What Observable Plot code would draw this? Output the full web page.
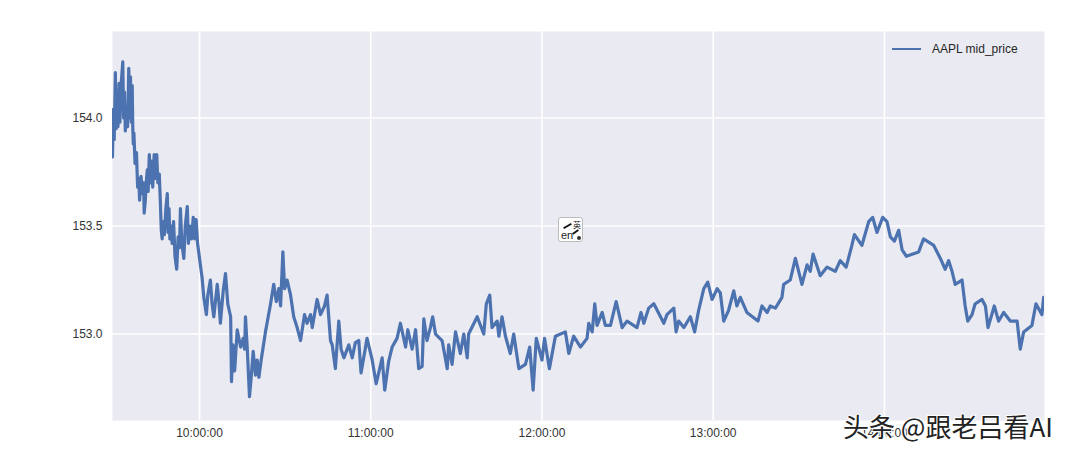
<!DOCTYPE html>
<html>
<head>
<meta charset="utf-8">
<script src="https://cdn.jsdelivr.net/npm/d3@7"></script>
<script src="https://cdn.jsdelivr.net/npm/@observablehq/plot@0.6"></script>
<style>
html,body{margin:0;padding:0;background:#fff;width:1083px;height:455px;overflow:hidden}
#wrap{position:relative;width:1083px;height:455px}
#legendLine{position:absolute;left:892px;top:48px;width:29px;height:2px;background:#4c72b0}
#legendText{position:absolute;left:932px;top:42px;font:12px "Liberation Sans",Arial,sans-serif;color:#262626;white-space:nowrap}
#mark{position:absolute;left:843px;top:407px;font:26px/38px "Noto Sans CJK SC",sans-serif;color:#222;white-space:nowrap;text-shadow:1px 1px 0 #fff,-1px 1px 0 #fff,1px -1px 0 #fff,-1px -1px 0 #fff}
#ime{position:absolute;left:558px;top:217px;width:25px;height:25px;box-sizing:border-box;background:#fff;border:1px solid #bbb;border-radius:3px;color:#222}
#ime span{position:absolute;line-height:1}
#ime .a{left:2px;top:11px;font:11px "Liberation Sans",sans-serif}
#ime .b{left:14px;top:1px;font:8px "Noto Sans CJK SC",sans-serif}
#ime .c{left:4px;top:7px;width:9px;height:2px;background:#111;transform:rotate(-30deg)}
#ime .d{left:13px;top:13px;width:7px;height:2px;background:#111;transform:rotate(-35deg)}
#ime .e{left:18px;top:18px;width:4px;height:4px;border-radius:50%;background:#333}
</style>
</head>
<body>
<div id="wrap"></div>
<script>
// minutes after 09:30
const minutes = [-0.5,-0.2,0.1,0.5,0.8,1.1,1.4,1.8,2.1,2.5,3.1,3.4,3.7,4.0,4.4,4.8,5.2,5.5,5.8,6.1,6.4,6.6,6.8,7.0,7.4,7.9,8.3,8.7,9.0,9.5,10.0,10.4,10.6,11.0,11.3,11.7,12.0,12.4,12.8,13.2,13.6,14.1,14.5,15.0,15.4,15.9,16.3,16.6,16.9,17.3,17.7,18.2,18.7,19.0,19.3,19.6,20.0,20.4,20.9,21.4,22.0,22.5,23.0,23.3,23.8,24.5,25.0,25.7,26.1,26.6,27.2,27.8,28.3,28.8,29.3,30.3,30.9,31.5,32.4,32.9,33.8,34.4,35.0,36.2,36.8,37.3,38.3,39.1,39.9,40.9,41.2,41.7,42.3,43.2,44.4,45.3,45.8,46.1,46.7,47.5,48.1,48.8,49.6,50.2,50.8,51.6,53.1,54.9,56.0,56.9,57.8,58.4,59.2,59.8,60.7,61.9,63.0,64.2,65.4,66.8,67.7,68.9,69.5,71.2,72.4,73.8,74.7,75.9,76.5,77.6,78.8,79.6,80.6,82.3,83.5,84.6,85.8,86.6,88.7,90.5,91.9,94.0,94.9,96.3,97.5,99.2,100.4,102.2,103.0,104.5,105.7,106.8,108.0,108.6,109.7,110.9,111.7,112.7,115.0,116.8,117.3,118.5,119.7,121.4,122.6,123.8,124.3,127.3,129.6,130.5,131.7,132.5,134.3,134.9,136.0,137.2,138.9,140.1,141.9,144.2,145.7,146.9,148.0,150.0,150.9,152.6,154.7,158.2,159.4,161.1,163.5,165.8,166.4,167.6,168.5,169.3,171.1,172.2,174.0,176.0,178.1,179.8,183.3,184.7,185.7,187.4,189.2,192.7,193.8,196.2,197.0,197.9,199.7,202.0,203.5,204.9,206.7,208.1,209.6,211.4,212.5,213.7,215.4,217.2,218.3,219.5,221.8,225.7,227.1,228.9,230.0,231.8,234.1,234.7,237.0,238.8,241.1,242.9,244.0,245.0,247.5,249.9,252.8,254.5,256.6,258.6,259.5,262.1,264.5,265.9,267.4,269.4,270.9,272.1,273.5,275.0,276.2,277.7,282.0,283.7,287.3,289.6,291.3,292.5,293.7,294.8,297.2,298.3,299.2,300.7,301.8,304.2,305.4,306.3,308.5,310.0,311.8,314.1,316.5,317.6,318.8,321.7,323.1,325.2,325.8,326.1];
const midPrice = [153.82,154.04,153.90,154.21,153.95,154.10,153.96,154.16,153.98,154.15,154.26,154.00,154.12,153.94,154.05,153.96,154.23,154.00,154.19,153.98,154.15,153.96,153.88,153.93,153.79,153.84,153.68,153.72,153.62,153.73,153.65,153.70,153.56,153.62,153.70,153.76,153.66,153.83,153.70,153.80,153.68,153.83,153.72,153.83,153.70,153.74,153.60,153.48,153.44,153.52,153.46,153.58,153.65,153.47,153.58,153.44,153.50,153.42,153.52,153.36,153.30,153.45,153.40,153.58,153.42,153.35,153.50,153.59,153.42,153.50,153.44,153.54,153.44,153.53,153.42,153.32,153.26,153.17,153.09,153.18,153.25,153.14,153.08,153.23,153.15,153.05,153.20,153.28,153.14,153.08,152.78,152.95,152.83,153.02,152.94,152.98,152.93,153.08,152.94,152.71,152.80,152.92,152.81,152.88,152.80,152.88,153.01,153.14,153.23,153.15,153.21,153.13,153.38,153.21,153.25,153.18,153.08,153.03,152.97,153.09,153.05,153.09,153.03,153.16,153.09,153.13,153.18,152.97,152.95,152.84,153.06,152.93,152.89,152.95,152.89,152.96,152.97,152.82,152.98,152.88,152.77,152.89,152.74,152.875,152.94,152.98,153.05,152.94,153.02,152.93,153.02,152.84,152.85,153.07,152.97,153.03,153.08,153.00,152.97,152.84,152.95,152.86,153.01,152.91,153.00,152.89,153.00,153.08,153.00,153.14,153.18,153.03,153.06,152.99,153.08,152.99,152.91,153.00,152.84,152.86,152.94,152.74,152.98,152.88,152.98,152.84,152.99,153.01,152.91,152.99,152.94,152.98,153.05,153.01,153.14,153.04,153.10,153.04,153.04,153.15,153.03,153.06,153.03,153.10,153.05,153.12,153.14,153.05,153.09,153.12,153.01,153.06,153.03,153.08,153.01,153.11,153.21,153.24,153.16,153.21,153.19,153.06,153.11,153.20,153.13,153.17,153.10,153.06,153.13,153.10,153.13,153.12,153.17,153.23,153.25,153.35,153.23,153.32,153.29,153.37,153.27,153.31,153.29,153.34,153.31,153.41,153.46,153.41,153.52,153.54,153.47,153.54,153.52,153.45,153.43,153.48,153.39,153.36,153.38,153.44,153.41,153.35,153.30,153.34,153.29,153.23,153.25,153.13,153.06,153.09,153.14,153.16,153.13,153.03,153.13,153.06,153.10,153.06,153.06,152.93,153.01,153.04,153.14,153.09,153.17,153.16];
const yTicks = [153.0,153.5,154.0];
const xHours = [10,11,12,13,14];
const seriesLabel = "AAPL mid_price";

const open = Date.UTC(2017,0,3,9,30);
const at = m => new Date(open + m*60000);
const rows = minutes.map((m,i)=>({t:at(m),p:midPrice[i]}));
const xTicks = xHours.map(h=>new Date(Date.UTC(2017,0,3,h)));

const chart = Plot.plot({
  width:1083,height:455,
  marginLeft:112,marginRight:39,marginTop:31,marginBottom:35,
  style:{fontFamily:'"Liberation Sans",Arial,sans-serif',fontSize:"12px",color:"#333",background:"#fff"},
  x:{type:"utc",domain:[at(-0.5),at(326.1)]},
  y:{domain:[152.6,154.4]},
  marks:[
    Plot.frame({fill:"#eaeaf2",stroke:null}),
    Plot.gridX(xTicks,{stroke:"#fff",strokeOpacity:1,strokeWidth:1.6}),
    Plot.gridY(yTicks,{stroke:"#fff",strokeOpacity:1,strokeWidth:1.6}),
    Plot.axisX(xTicks,{tickSize:0,tickPadding:8,label:null,tickFormat:d3.utcFormat("%H:%M:%S"),fill:"#333"}),
    Plot.axisY(yTicks,{tickSize:0,tickPadding:10,label:null,tickFormat:d3.format(".1f"),fill:"#333"}),
    Plot.line(rows,{x:"t",y:"p",stroke:"#4c72b0",strokeWidth:3.2,strokeLinejoin:"round",curve:"linear",clip:true})
  ]
});
const wrap = document.getElementById("wrap");
wrap.appendChild(chart);
const add=(id,text)=>{const d=document.createElement("div");d.id=id;if(text)d.textContent=text;wrap.appendChild(d);return d;};
add("legendLine");
add("legendText",seriesLabel);
const ime=add("ime");
ime.innerHTML='<span class="a">en</span><span class="b">英</span><span class="c"></span><span class="d"></span><span class="e"></span>';
add("mark","头条 @跟老吕看AI");
</script>
</body>
</html>
